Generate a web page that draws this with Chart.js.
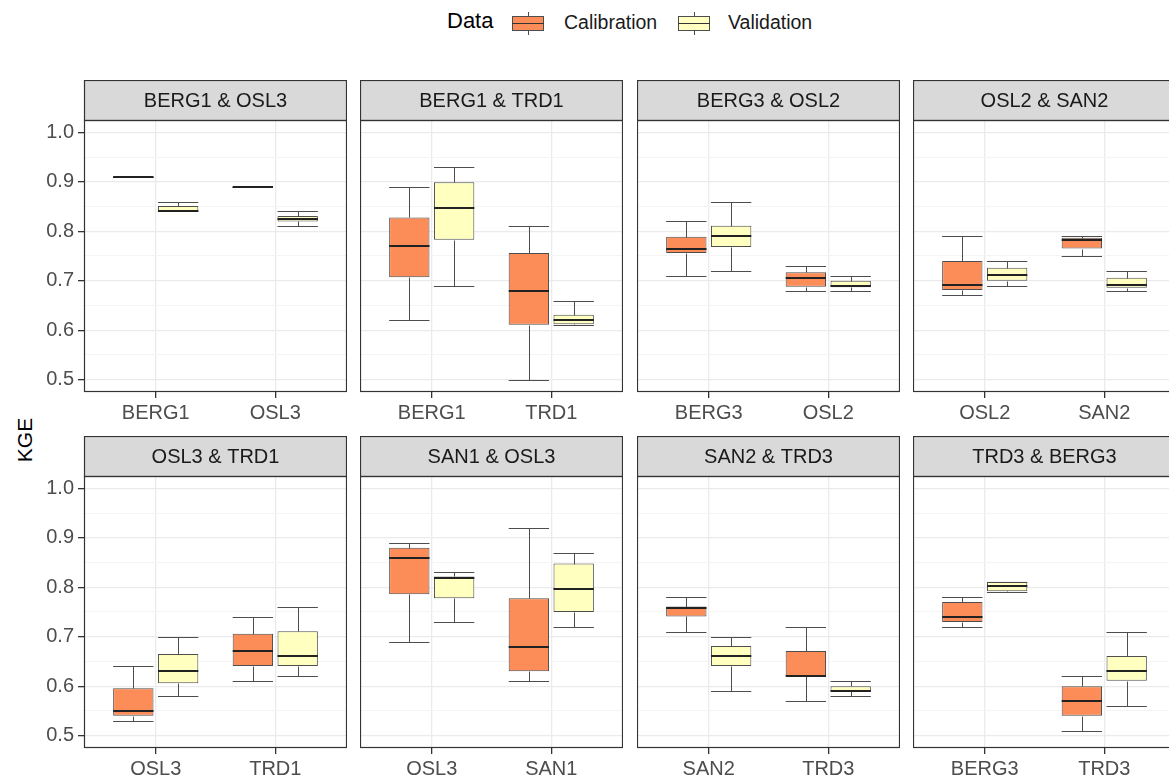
<!DOCTYPE html>
<html>
<head>
<meta charset="utf-8">
<title>KGE by station pair</title>
<script src="https://cdn.jsdelivr.net/npm/chart.js@4/dist/chart.umd.min.js"></script>
<style>
  html, body { margin: 0; padding: 0; background: #fff; overflow: hidden; }
  #page { position: relative; width: 1169px; height: 781px; overflow: hidden;
          font-family: "Liberation Sans", Arial, sans-serif; background: #fff; }
  .panel { position: absolute; }
  .panel canvas { display: block; }
  #legend { position: absolute; left: 0; top: 0; width: 1169px; height: 45px; }
  .lg-title { position: absolute; left: 447px; top: 8px; font-size: 22px; color: #000; line-height: 26px; }
  .lg-text { position: absolute; top: 10px; font-size: 19.5px; color: #1a1a1a; line-height: 24px; }
  .lg-key { position: absolute; top: 12px; width: 32px; height: 23px; }
  .lg-key .whisker { position: absolute; left: 15.5px; top: 0; width: 1px; height: 23px; background: #4d4d4d; }
  .lg-key .box { position: absolute; left: 0; top: 4px; width: 30px; height: 13px; border: 1px solid #4d4d4d; }
  .lg-key .median { position: absolute; left: 0; top: 11px; width: 32px; height: 1px; background: #333; }
  #ylab { position: absolute; left: 25px; top: 440px; transform: translate(-50%, -50%) rotate(-90deg);
          font-size: 21px; color: #000; white-space: nowrap; }
</style>
</head>
<body>
<div id="page">
  <div id="legend">
    <div class="lg-title">Data</div>
    <div class="lg-key" style="left:512px"><div class="whisker"></div><div class="box" style="background:#FC8D59"></div><div class="median"></div></div>
    <div class="lg-text" style="left:564px">Calibration</div>
    <div class="lg-key" style="left:678px"><div class="whisker"></div><div class="box" style="background:#FFFFBF"></div><div class="median"></div></div>
    <div class="lg-text" style="left:728px">Validation</div>
  </div>
  <div id="ylab">KGE</div>
</div>
<script>
// Facet titles, row by row
const panelTitles = [
  'BERG1 & OSL3', 'BERG1 & TRD1', 'BERG3 & OSL2', 'OSL2 & SAN2',
  'OSL3 & TRD1', 'SAN1 & OSL3', 'SAN2 & TRD3', 'TRD3 & BERG3'
];

// Stations on the x axis of each facet
const stationLabels = [
  ['BERG1', 'OSL3'], ['BERG1', 'TRD1'], ['BERG3', 'OSL2'], ['OSL2', 'SAN2'],
  ['OSL3', 'TRD1'], ['OSL3', 'SAN1'], ['SAN2', 'TRD3'], ['BERG3', 'TRD3']
];

// KGE summaries [lower whisker, Q1, median, Q3, upper whisker], two stations per facet
const calibrationStats = [
  [0.91, 0.91, 0.91, 0.91, 0.91],   [0.89, 0.89, 0.89, 0.89, 0.89],
  [0.62, 0.707, 0.771, 0.828, 0.89], [0.50, 0.611, 0.68, 0.756, 0.81],
  [0.71, 0.756, 0.765, 0.789, 0.82], [0.68, 0.688, 0.706, 0.717, 0.73],
  [0.672, 0.681, 0.691, 0.74, 0.79], [0.75, 0.765, 0.782, 0.787, 0.79],
  [0.53, 0.54, 0.55, 0.596, 0.64],   [0.61, 0.641, 0.671, 0.706, 0.74],
  [0.69, 0.786, 0.86, 0.88, 0.89],   [0.61, 0.63, 0.68, 0.778, 0.92],
  [0.71, 0.741, 0.758, 0.761, 0.78], [0.57, 0.62, 0.621, 0.671, 0.72],
  [0.72, 0.73, 0.74, 0.77, 0.78],    [0.51, 0.54, 0.57, 0.60, 0.62]
];

const validationStats = [
  [0.84, 0.84, 0.842, 0.851, 0.86],  [0.81, 0.82, 0.825, 0.831, 0.84],
  [0.69, 0.783, 0.847, 0.899, 0.93], [0.61, 0.612, 0.621, 0.631, 0.66],
  [0.72, 0.768, 0.791, 0.811, 0.86], [0.68, 0.687, 0.69, 0.70, 0.71],
  [0.69, 0.70, 0.711, 0.726, 0.74],  [0.68, 0.686, 0.691, 0.706, 0.72],
  [0.58, 0.606, 0.63, 0.665, 0.70],  [0.62, 0.641, 0.661, 0.711, 0.76],
  [0.73, 0.778, 0.818, 0.822, 0.83], [0.72, 0.75, 0.796, 0.848, 0.87],
  [0.59, 0.641, 0.661, 0.681, 0.70], [0.58, 0.59, 0.591, 0.60, 0.61],
  [0.79, 0.792, 0.802, 0.811, 0.811], [0.56, 0.611, 0.631, 0.661, 0.71]
];

// y axis: labelled major ticks and unlabelled minor grid lines
const majorTicks = [0.5, 0.6, 0.7, 0.8, 0.9, 1.0];
const minorTicks = [0.55, 0.65, 0.75, 0.85, 0.95];

// ---- layout & style ----
const FONT = '"Liberation Sans", Arial, sans-serif';
const CAL_FILL = '#FC8D59';
const VAL_FILL = '#FFFFBF';
const LINE = '#4d4d4d';
const colLeft = [84, 360, 637, 913];
const stripTop = [80, 436];
const PANEL_W = 263, PANEL_H = 272, STRIP_H = 40, XAXIS_H = 40, YAXIS_W = 84;

Chart.defaults.font.family = FONT;

const isMajor = v => majorTicks.some(m => Math.abs(m - v) < 1e-6);

// Facet strip on top and the panel frame
const facetFrame = {
  id: 'facetFrame',
  afterDraw(chart, args, opts) {
    const { ctx, chartArea: a } = chart;
    ctx.save();
    ctx.fillStyle = '#D9D9D9';
    ctx.fillRect(a.left, 0, a.right - a.left, a.top);
    ctx.strokeStyle = '#333333';
    ctx.lineWidth = 1.2;
    ctx.strokeRect(a.left + 0.5, 0.5, a.right - a.left - 1, a.top);
    ctx.strokeRect(a.left + 0.5, a.top + 0.5, a.right - a.left - 1, a.bottom - a.top - 1);
    ctx.fillStyle = '#1a1a1a';
    ctx.font = '20px ' + FONT;
    ctx.textAlign = 'center';
    ctx.textBaseline = 'middle';
    ctx.fillText(opts.title, (a.left + a.right) / 2, a.top / 2 + 1);
    ctx.restore();
  }
};

// Whiskers, caps and median lines on top of the Q1–Q3 bars
const boxWhiskers = {
  id: 'boxWhiskers',
  afterDatasetsDraw(chart) {
    const { ctx } = chart;
    const yScale = chart.scales.y;
    ctx.save();
    chart.data.datasets.forEach((ds, di) => {
      const meta = chart.getDatasetMeta(di);
      meta.data.forEach((bar, i) => {
        const [lo, q1, med, q3, hi] = ds.stats[i];
        const half = bar.width / 2;
        const x = Math.round(bar.x) + 0.5;
        const py = v => Math.round(yScale.getPixelForValue(v)) + 0.5;
        ctx.strokeStyle = LINE;
        ctx.lineWidth = 1;
        ctx.beginPath();
        if (hi > q3) { ctx.moveTo(x, py(q3)); ctx.lineTo(x, py(hi)); }
        if (lo < q1) { ctx.moveTo(x, py(q1)); ctx.lineTo(x, py(lo)); }
        ctx.moveTo(bar.x - half, py(hi)); ctx.lineTo(bar.x + half, py(hi));
        ctx.moveTo(bar.x - half, py(lo)); ctx.lineTo(bar.x + half, py(lo));
        ctx.stroke();
        ctx.strokeStyle = '#222222';
        ctx.lineWidth = 2;
        ctx.beginPath();
        const ym = Math.round(yScale.getPixelForValue(med));
        ctx.moveTo(bar.x - half, ym); ctx.lineTo(bar.x + half, ym);
        ctx.stroke();
      });
    });
    ctx.restore();
  }
};

function makePanel(idx) {
  const col = idx % 4, row = Math.floor(idx / 4);
  const axisW = col === 0 ? YAXIS_W : 0;
  const w = axisW + PANEL_W, h = STRIP_H + PANEL_H + XAXIS_H;
  const wrap = document.createElement('div');
  wrap.className = 'panel';
  wrap.style.left = (colLeft[col] - axisW) + 'px';
  wrap.style.top = stripTop[row] + 'px';
  const canvas = document.createElement('canvas');
  canvas.width = w; canvas.height = h;
  canvas.style.width = w + 'px'; canvas.style.height = h + 'px';
  wrap.appendChild(canvas);
  document.getElementById('page').appendChild(wrap);

  const labels = stationLabels[idx];
  const cal = calibrationStats.slice(idx * 2, idx * 2 + 2);
  const val = validationStats.slice(idx * 2, idx * 2 + 2);
  const barStyle = { borderColor: LINE, borderWidth: 1, borderSkipped: false,
                     categoryPercentage: 0.75, barPercentage: 0.9 };

  new Chart(canvas, {
    type: 'bar',
    data: {
      datasets: [
        Object.assign({ label: 'Calibration', stats: cal, backgroundColor: CAL_FILL,
          data: cal.map((s, i) => ({ x: i + 1, y: [s[1], s[3]] })) }, barStyle),
        Object.assign({ label: 'Validation', stats: val, backgroundColor: VAL_FILL,
          data: val.map((s, i) => ({ x: i + 1, y: [s[1], s[3]] })) }, barStyle)
      ]
    },
    options: {
      responsive: false,
      animation: false,
      devicePixelRatio: 1,
      layout: { padding: { top: STRIP_H, left: 0, right: 0, bottom: 0 } },
      plugins: {
        legend: { display: false },
        tooltip: { enabled: false },
        facetFrame: { title: panelTitles[idx] }
      },
      scales: {
        x: {
          type: 'linear', min: 0.4, max: 2.6, offset: false,
          afterBuildTicks: s => { s.ticks = [{ value: 1 }, { value: 2 }]; },
          afterFit: s => { s.height = XAXIS_H; },
          ticks: {
            callback: v => labels[Math.round(v) - 1],
            font: { size: 20 }, color: '#4d4d4d', padding: 3,
            autoSkip: false, maxRotation: 0
          },
          grid: { offset: false, color: '#EBEBEB', lineWidth: 1.3, tickLength: 6, tickColor: '#333333' },
          border: { display: false }
        },
        y: {
          type: 'linear', min: 0.475, max: 1.025,
          afterBuildTicks: s => {
            s.ticks = majorTicks.concat(minorTicks).sort((a, b) => a - b).map(v => ({ value: v }));
          },
          afterFit: s => { s.width = axisW; },
          ticks: {
            display: col === 0,
            callback: v => isMajor(v) ? v.toFixed(1) : '',
            font: { size: 20 }, color: '#4d4d4d', padding: 4
          },
          grid: {
            color: c => isMajor(c.tick.value) ? '#EBEBEB' : '#F4F4F4',
            lineWidth: c => isMajor(c.tick.value) ? 1.3 : 1,
            drawTicks: col === 0,
            tickLength: 6,
            tickColor: c => isMajor(c.tick.value) ? '#333333' : 'rgba(0,0,0,0)'
          },
          border: { display: false }
        }
      }
    },
    plugins: [boxWhiskers, facetFrame]
  });
}

for (let i = 0; i < panelTitles.length; i++) makePanel(i);
</script>
</body>
</html>
